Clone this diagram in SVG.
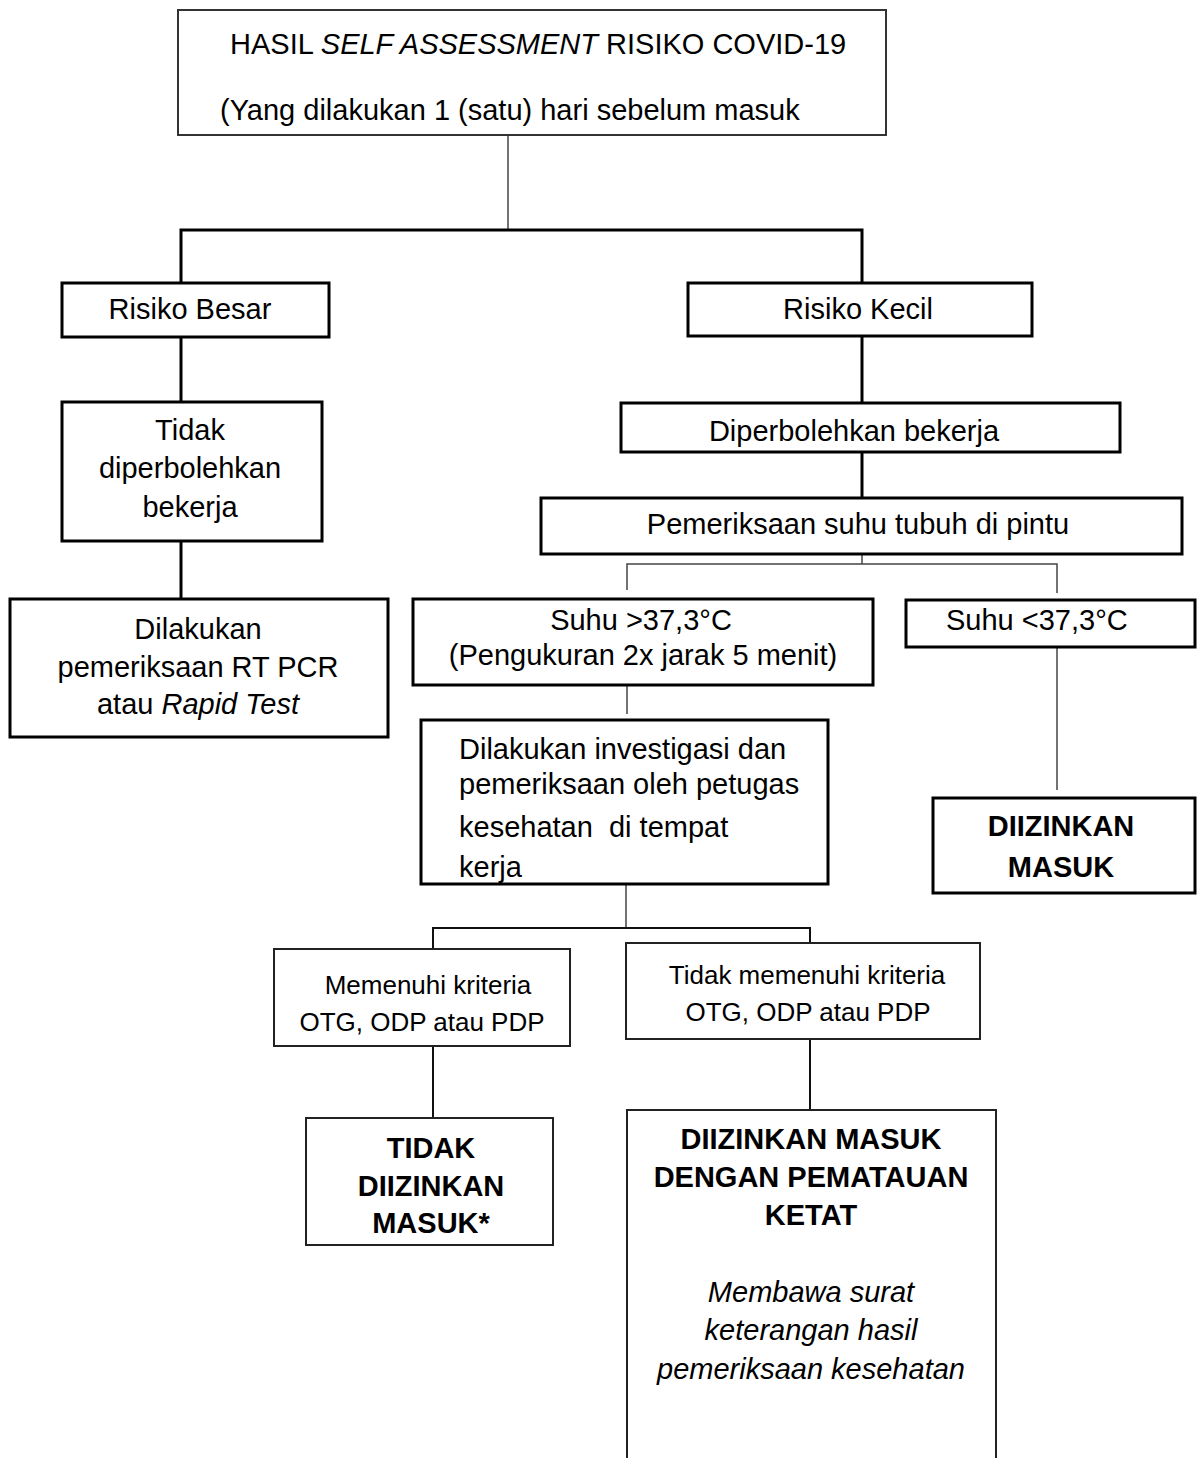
<svg xmlns="http://www.w3.org/2000/svg" width="1204" height="1458" viewBox="0 0 1204 1458">
<style>
text{font-family:"Liberation Sans",Arial,sans-serif;font-size:29px;fill:#000}
.m{text-anchor:middle}
.s{font-size:26px}
.b{font-weight:bold}
.i{font-style:italic}
.box{fill:#fff;stroke:#000;stroke-width:3}
.tbox{fill:#fff;stroke:#222;stroke-width:2}
.thick{stroke:#000;stroke-width:3;fill:none}
.thin{stroke:#444;stroke-width:1.5;fill:none}
.mid{stroke:#111;stroke-width:2;fill:none}
</style>
<rect width="1204" height="1458" fill="#fff"/>
<g id="connectors">
<line class="thin" x1="508" y1="135" x2="508" y2="230"/>
<polyline class="thick" points="181,283 181,230 862,230 862,283"/>
<line class="thick" x1="181" y1="337" x2="181" y2="402"/>
<line class="thick" x1="181" y1="541" x2="181" y2="599"/>
<line class="thick" x1="862" y1="336" x2="862" y2="403"/>
<line class="thick" x1="862" y1="452" x2="862" y2="498"/>
<line class="thin" x1="862" y1="554" x2="862" y2="564"/>
<polyline class="thin" points="627,590 627,564 1057,564 1057,593"/>
<line class="thin" x1="627" y1="685" x2="627" y2="714"/>
<line class="thin" x1="1057" y1="647" x2="1057" y2="790"/>
<line class="thin" x1="626" y1="884" x2="626" y2="928"/>
<polyline class="mid" points="433,949 433,928 810,928 810,943"/>
<line class="mid" x1="433" y1="1046" x2="433" y2="1118"/>
<line class="mid" x1="810" y1="1039" x2="810" y2="1110"/>
</g>
<g id="n-top">
<rect x="178" y="10" width="708" height="125" fill="#fff" stroke="#333" stroke-width="2"/>
<text x="230" y="54">HASIL <tspan class="i">SELF ASSESSMENT</tspan> RISIKO COVID-19</text>
<text x="220" y="120">(Yang dilakukan 1 (satu) hari sebelum masuk</text>
</g>
<g id="n-risiko-besar">
<rect class="box" x="62" y="283" width="267" height="54"/>
<text class="m" x="190" y="319">Risiko Besar</text>
</g>
<g id="n-tidak-boleh">
<rect class="box" x="62" y="402" width="260" height="139"/>
<text class="m" x="190" y="440">Tidak</text>
<text class="m" x="190" y="478">diperbolehkan</text>
<text class="m" x="190" y="517">bekerja</text>
</g>
<g id="n-rtpcr">
<rect class="box" x="10" y="599" width="378" height="138"/>
<text class="m" x="198" y="639">Dilakukan</text>
<text class="m" x="198" y="677">pemeriksaan RT PCR</text>
<text class="m" x="198" y="714">atau <tspan class="i">Rapid Test</tspan></text>
</g>
<g id="n-risiko-kecil">
<rect class="box" x="688" y="283" width="344" height="53"/>
<text class="m" x="858" y="319">Risiko Kecil</text>
</g>
<g id="n-boleh">
<rect class="box" x="621" y="403" width="499" height="49"/>
<text class="m" x="854" y="441">Diperbolehkan bekerja</text>
</g>
<g id="n-suhu-pintu">
<rect class="box" x="541" y="498" width="641" height="56"/>
<text class="m" x="858" y="534">Pemeriksaan suhu tubuh di pintu</text>
</g>
<g id="n-suhu-tinggi">
<rect class="box" x="413" y="599" width="460" height="86"/>
<text class="m" x="641" y="630">Suhu &gt;37,3°C</text>
<text class="m" x="643" y="665">(Pengukuran 2x jarak 5 menit)</text>
</g>
<g id="n-suhu-rendah">
<rect class="box" x="906" y="600" width="289" height="47"/>
<text x="946" y="630">Suhu &lt;37,3°C</text>
</g>
<g id="n-investigasi">
<rect class="box" x="421" y="720" width="407" height="164"/>
<text x="459" y="759">Dilakukan investigasi dan</text>
<text x="459" y="794">pemeriksaan oleh petugas</text>
<text x="459" y="837" xml:space="preserve">kesehatan  di tempat</text>
<text x="459" y="877">kerja</text>
</g>
<g id="n-diizinkan">
<rect class="box" x="933" y="798" width="262" height="95"/>
<text class="m b" x="1061" y="836">DIIZINKAN</text>
<text class="m b" x="1061" y="877">MASUK</text>
</g>
<g id="n-memenuhi">
<rect class="tbox" x="274" y="949" width="296" height="97"/>
<text class="m s" x="428" y="994">Memenuhi kriteria</text>
<text class="m s" x="422" y="1031">OTG, ODP atau PDP</text>
</g>
<g id="n-tidak-memenuhi">
<rect class="tbox" x="626" y="943" width="354" height="96"/>
<text class="m s" x="807" y="984">Tidak memenuhi kriteria</text>
<text class="m s" x="808" y="1021">OTG, ODP atau PDP</text>
</g>
<g id="n-tidak-diizinkan">
<rect class="tbox" x="306" y="1118" width="247" height="127"/>
<text class="m b" x="431" y="1158">TIDAK</text>
<text class="m b" x="431" y="1196">DIIZINKAN</text>
<text class="m b" x="431" y="1233">MASUK*</text>
</g>
<g id="n-pemantauan">
<path d="M627,1458 V1110 H996 V1458" fill="#fff" stroke="#222" stroke-width="2"/>
<text class="m b" x="811" y="1149">DIIZINKAN MASUK</text>
<text class="m b" x="811" y="1187">DENGAN PEMATAUAN</text>
<text class="m b" x="811" y="1225">KETAT</text>
<text class="m i" x="811" y="1302">Membawa surat</text>
<text class="m i" x="811" y="1340">keterangan hasil</text>
<text class="m i" x="811" y="1379">pemeriksaan kesehatan</text>
</g>
</svg>
